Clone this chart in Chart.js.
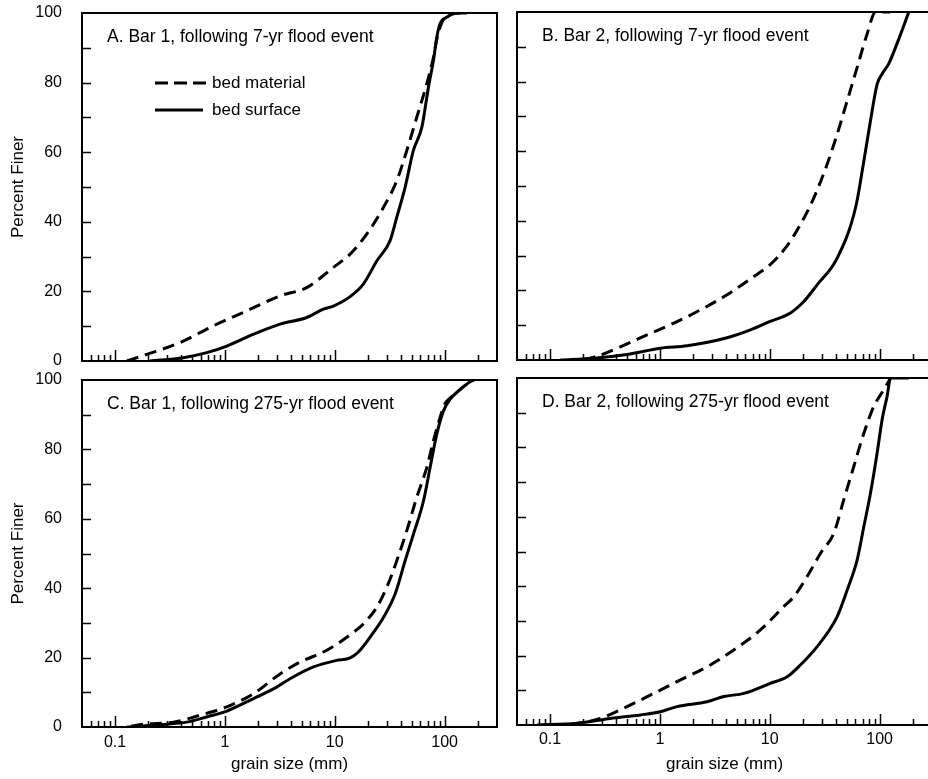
<!DOCTYPE html>
<html><head><meta charset="utf-8">
<script src="https://cdn.jsdelivr.net/npm/chart.js@4.4.1/dist/chart.umd.min.js"></script>
<style>
html,body{margin:0;padding:0;background:#fff;width:928px;height:779px;overflow:hidden;position:relative}
canvas{position:absolute}
</style></head><body>
<canvas id="cA" width="510" height="375" style="left:0;top:0"></canvas>
<canvas id="cB" width="440" height="375" style="left:505px;top:0"></canvas>
<canvas id="cC" width="510" height="409" style="left:0;top:370px"></canvas>
<canvas id="cD" width="440" height="409" style="left:505px;top:370px"></canvas>
<script>
// ---- axis definitions ----
const xMin = 0.05, xMax = 300;
const majorTicks = [0.1, 1, 10, 100];
const majorTickLabels = ['0.1', '1', '10', '100'];
const minorTicks = [0.06, 0.07, 0.08, 0.09, 0.2, 0.3, 0.4, 0.5, 0.6, 0.7, 0.8, 0.9,
  2, 3, 4, 5, 6, 7, 8, 9, 20, 30, 40, 50, 60, 70, 80, 90, 200];
const yTickValues = [10, 20, 30, 40, 50, 60, 70, 80, 90];
const yLabelValues = [0, 20, 40, 60, 80, 100];
const seriesNames = ['bed material', 'bed surface'];
const panelTitles = [
  'A. Bar 1, following 7-yr flood event',
  'B. Bar 2, following 7-yr flood event',
  'C. Bar 1, following 275-yr flood event',
  'D. Bar 2, following 275-yr flood event'
];

// ---- Panel A data (grain size mm, percent finer) ----
const aMaterialSize = [0.128, 0.194, 0.39, 0.785, 1.58, 3.18, 5.56, 9.72, 13.8, 19.6, 27.7, 36.7, 45.3, 55.9, 68.9, 79.2, 85, 91, 104.8, 138.6];
const aMaterialPct  = [0, 1.9, 5.3, 10.1, 14.4, 18.7, 21.1, 26.9, 30.7, 36.5, 44.1, 51.8, 60.5, 70.1, 79.7, 87.3, 92.5, 96, 99.3, 100];
const aSurfaceSize  = [0.208, 0.418, 0.684, 1.04, 1.82, 3.18, 5.56, 7.88, 9.72, 13.8, 18.2, 24.2, 31.9, 36.7, 43.7, 52, 62.1, 71.3, 79.2, 85, 91, 104.8, 129, 160];
const aSurfacePct   = [0, 0.95, 2.4, 4.3, 7.7, 10.6, 12.5, 14.9, 15.8, 18.5, 22.1, 28.8, 34.6, 41.3, 49.9, 60.5, 67.2, 78.7, 86.4, 93.1, 96.9, 98.8, 100, 100];

// ---- Panel B data ----
const bMaterialSize = [0.202, 0.287, 0.437, 0.764, 1.34, 2.34, 4.09, 7.16, 10.1, 13.9, 19, 25.2, 33.3, 41.1, 50.7, 62.5, 77.1, 91.8, 125];
const bMaterialPct  = [0, 1.4, 3.8, 7.2, 10.6, 14.4, 18.75, 24, 27.4, 32.2, 38.9, 46.6, 56.25, 64.9, 74.5, 84.1, 93.75, 100, 100];
const bSurfaceSize  = [0.124, 0.25, 0.502, 1.01, 1.77, 4.09, 6.67, 10.1, 15.4, 20.4, 27, 41.1, 60.4, 71.9, 82.6, 95, 105.4, 121, 144, 184.5];
const bSurfacePct   = [0, 0.5, 1.6, 3.4, 4.1, 6.4, 8.65, 11.1, 13.5, 16.8, 21.6, 29.3, 43.75, 57.2, 68.75, 79.3, 82.2, 85.1, 90.9, 100];

// ---- Panel C data ----
const cMaterialSize = [0.14, 0.181, 0.34, 0.594, 1.04, 1.82, 3.18, 4.83, 8.45, 14.8, 18.2, 24.1, 29.8, 36.7, 45.3, 55.8, 68.9, 79.2, 91, 100, 112, 139, 171, 185];
const cMaterialPct  = [0.2, 0.8, 1.4, 3.4, 5.8, 9.6, 15.3, 18.7, 22.1, 27.3, 29.7, 34.5, 40.3, 47.9, 56.6, 66.2, 74.8, 82.5, 89.2, 93, 94.8, 97.3, 99.5, 100];
const cSurfaceSize  = [0.128, 0.295, 0.449, 0.682, 1.04, 1.82, 2.96, 3.92, 6.39, 10.4, 13.8, 16.4, 21, 27.8, 35.5, 43.7, 52.1, 64.3, 73.8, 84.9, 97.7, 112, 139, 171, 185];
const cSurfacePct   = [0, 0.8, 1.4, 2.9, 4.6, 8.2, 11.5, 13.9, 17.3, 19.2, 19.9, 21.6, 25.9, 31.6, 38.4, 47.9, 55.6, 65.2, 74.8, 84.4, 91.1, 94.4, 97.3, 99.5, 100];

// ---- Panel D data ----
const dMaterialSize = [0.153, 0.287, 0.502, 0.879, 1.54, 2.69, 4.7, 8.22, 13.4, 16.6, 21.9, 29, 38.3, 47.2, 58.2, 71.9, 88.6, 109, 126];
const dMaterialPct  = [0, 1.9, 5.3, 9.1, 13, 16.8, 21.6, 27.4, 34.1, 37, 42.8, 49.5, 55.3, 64.9, 74.5, 84.1, 91.8, 96.6, 100];
const dSurfaceSize  = [0.076, 0.176, 0.354, 0.664, 1.01, 1.43, 2.69, 3.81, 5.8, 10.1, 14.4, 19, 27, 41.1, 50.7, 62.5, 71.9, 82.6, 95, 105.4, 117, 126, 184.5];
const dSurfacePct   = [0, 0.5, 1.9, 2.9, 3.8, 5.3, 6.7, 8.2, 9.1, 12, 13.9, 17.3, 22.6, 31.25, 38.9, 47.6, 57.2, 66.8, 78.4, 88, 94.7, 100, 100];

const FONT = '"Liberation Sans", Arial, Helvetica, sans-serif';
const zip = (xs, ys) => xs.map((x, i) => ({ x: x, y: ys[i] }));

const framePlugin = {
  id: 'frame',
  afterDatasetsDraw(chart, args, opts) {
    const { ctx, chartArea: a, scales } = chart;
    const x = scales.x, y = scales.y;
    ctx.save();
    ctx.strokeStyle = '#000';
    ctx.setLineDash([]);
    ctx.lineWidth = 2;
    ctx.strokeRect(a.left, a.top, a.right - a.left, a.bottom - a.top);
    ctx.beginPath();
    yTickValues.forEach(v => {
      const py = Math.round(y.getPixelForValue(v)) + 0.5;
      ctx.moveTo(a.left, py); ctx.lineTo(a.left + 9, py);
    });
    majorTicks.forEach(v => {
      const px = Math.round(x.getPixelForValue(v)) + 0.5;
      ctx.moveTo(px, a.bottom); ctx.lineTo(px, a.bottom - 11);
    });
    minorTicks.forEach(v => {
      const px = Math.round(x.getPixelForValue(v)) + 0.5;
      ctx.moveTo(px, a.bottom); ctx.lineTo(px, a.bottom - 6);
    });
    ctx.lineWidth = 1.5;
    ctx.stroke();
    ctx.fillStyle = '#000';
    ctx.font = '17.5px ' + FONT;
    ctx.textBaseline = 'middle';
    ctx.textAlign = 'left';
    ctx.fillText(opts.title, a.left + 25, a.top + 24);
    if (opts.legend) {
      ctx.lineWidth = 3;
      ctx.setLineDash([13, 6]);
      ctx.beginPath(); ctx.moveTo(a.left + 73, a.top + 70); ctx.lineTo(a.left + 125, a.top + 70); ctx.stroke();
      ctx.setLineDash([]);
      ctx.beginPath(); ctx.moveTo(a.left + 73, a.top + 97); ctx.lineTo(a.left + 121, a.top + 97); ctx.stroke();
      ctx.font = '17px ' + FONT;
      ctx.fillText(seriesNames[0], a.left + 130, a.top + 70);
      ctx.fillText(seriesNames[1], a.left + 130, a.top + 97);
    }
    ctx.restore();
  }
};

function makePanel(id, p) {
  return new Chart(document.getElementById(id), {
    type: 'line',
    data: {
      datasets: [
        { label: seriesNames[0], data: zip(p.matSize, p.matPct), borderColor: '#000', borderWidth: 3,
          borderDash: [12, 7], pointRadius: 0, fill: false, cubicInterpolationMode: 'monotone' },
        { label: seriesNames[1], data: zip(p.surfSize, p.surfPct), borderColor: '#000', borderWidth: 3,
          pointRadius: 0, fill: false, cubicInterpolationMode: 'monotone' }
      ]
    },
    options: {
      responsive: false, animation: false, devicePixelRatio: 1,
      layout: { padding: p.pad },
      plugins: { legend: { display: false }, tooltip: { enabled: false },
        frame: { title: p.title, legend: p.legend } },
      scales: {
        x: {
          type: 'logarithmic', min: xMin, max: xMax,
          afterBuildTicks: s => { s.ticks = majorTicks.map(v => ({ value: v })); },
          afterFit: s => { s.height = p.xHeight; s.paddingLeft = 0; s.paddingRight = 0; },
          grid: { display: false, drawTicks: false }, border: { display: false },
          ticks: { display: p.xLabels, autoSkip: false, maxRotation: 0, padding: p.xPad, color: '#000',
            font: { family: FONT, size: 16 }, callback: (v, i) => majorTickLabels[i] },
          title: { display: p.xLabels, text: 'grain size (mm)', color: '#000',
            font: { family: FONT, size: 17 }, padding: { top: 0, bottom: 4 } }
        },
        y: {
          type: 'linear', min: 0, max: 100,
          afterBuildTicks: s => { s.ticks = yLabelValues.map(v => ({ value: v })); },
          afterFit: s => { s.width = p.yWidth; s.paddingTop = 0; s.paddingBottom = 0; },
          grid: { display: false, drawTicks: false }, border: { display: false },
          ticks: { display: p.yLabels, autoSkip: false, padding: 20, color: '#000',
            font: { family: FONT, size: 16 } },
          title: { display: p.yLabels, text: 'Percent Finer', color: '#000',
            font: { family: FONT, size: 17 }, padding: { top: 8, bottom: 0 } }
        }
      }
    },
    plugins: [framePlugin]
  });
}

makePanel('cA', { matSize: aMaterialSize, matPct: aMaterialPct, surfSize: aSurfaceSize, surfPct: aSurfacePct,
  title: panelTitles[0], legend: true, pad: { top: 13, right: 13, left: 0, bottom: 0 },
  xHeight: 14, yWidth: 82, xLabels: false, yLabels: true, xPad: 6 });
makePanel('cB', { matSize: bMaterialSize, matPct: bMaterialPct, surfSize: bSurfaceSize, surfPct: bSurfacePct,
  title: panelTitles[1], legend: false, pad: { top: 12, right: 13, left: 0, bottom: 0 },
  xHeight: 15, yWidth: 12, xLabels: false, yLabels: false, xPad: 6 });
makePanel('cC', { matSize: cMaterialSize, matPct: cMaterialPct, surfSize: cSurfaceSize, surfPct: cSurfacePct,
  title: panelTitles[2], legend: false, pad: { top: 10, right: 13, left: 0, bottom: 0 },
  xHeight: 52, yWidth: 82, xLabels: true, yLabels: true, xPad: 6 });
makePanel('cD', { matSize: dMaterialSize, matPct: dMaterialPct, surfSize: dSurfaceSize, surfPct: dSurfacePct,
  title: panelTitles[3], legend: false, pad: { top: 8, right: 13, left: 0, bottom: 0 },
  xHeight: 54, yWidth: 12, xLabels: true, yLabels: false, xPad: 5 });
</script>
</body></html>
